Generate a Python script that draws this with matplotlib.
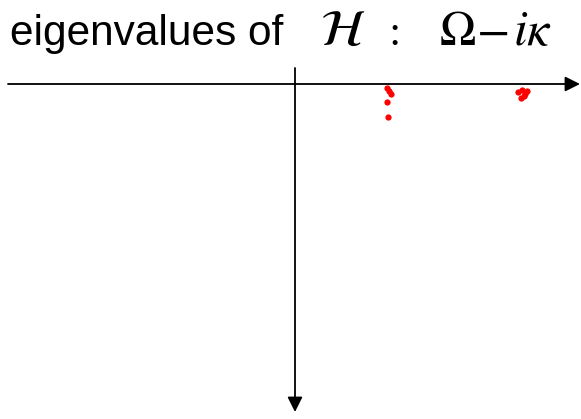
import matplotlib
matplotlib.use("Agg")
import matplotlib.pyplot as plt

# eigenvalues Omega - i*kappa (arbitrary units)
omega = [9.2, 9.4, 9.6, 9.2, 9.3, 22.3, 22.7, 23.2, 22.9, 22.6, 23.0]
kappa = [0.4, 0.7, 1.0, 1.8, 3.3, 0.8, 0.6, 0.7, 1.2, 1.4, 1.0]

plt.rcParams["mathtext.fontset"] = "stix"

fig = plt.figure(figsize=(5.81, 4.19), dpi=100)
ax = fig.add_axes([0, 0, 1, 1])
ax.set_xlim(-29.5, 28.6)
ax.set_ylim(-33.5, 8.4)
ax.axis("off")

# complex plane axes
ax.annotate("", xy=(28.5, 0), xytext=(-28.7, 0),
            arrowprops=dict(arrowstyle="-|>,head_length=0.9,head_width=0.45",
                            color="black", lw=1.3, shrinkA=0, shrinkB=0))
ax.annotate("", xy=(0, -32.8), xytext=(0, 1.6),
            arrowprops=dict(arrowstyle="-|>,head_length=0.9,head_width=0.45",
                            color="black", lw=1.3, shrinkA=0, shrinkB=0))

ax.plot(omega, [-k for k in kappa], "o", color="red", markersize=4.5,
        markeredgewidth=0)

base = 1 - 45 / 419
fig.text(10 / 581, base, "eigenvalues of", fontsize=30.5, family="Liberation Sans",
         va="baseline")
fig.text(320 / 581, base, r"$\mathcal{H}$", fontsize=37, va="baseline")
fig.text(382 / 581, base, r"$:$", fontsize=32, va="baseline")
fig.text(439 / 581, base, r"$\Omega$", fontsize=35, va="baseline")
fig.text(476 / 581, base, r"$-$", fontsize=35, va="baseline")
fig.text(513 / 581, base, r"$i\kappa$", fontsize=36, va="baseline")

fig.savefig("out.png", dpi=100)
